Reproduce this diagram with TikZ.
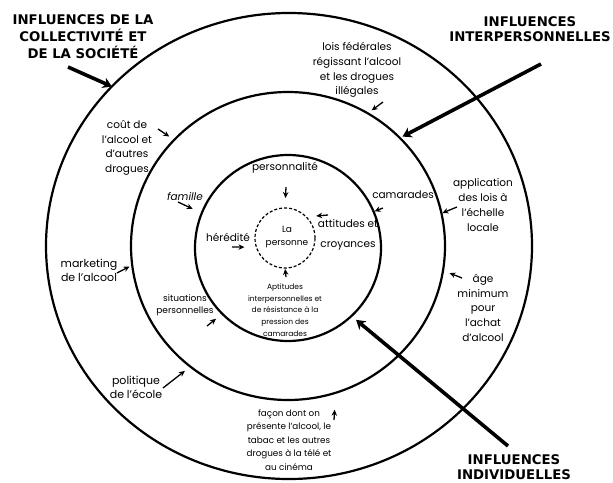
\documentclass[tikz,border=0pt]{standalone}
\usepackage{fontspec}
\setmainfont{Poppins}
\newfontfamily\headfont{DejaVu Sans}
\usetikzlibrary{shapes.geometric,arrows.meta}
\tikzset{
    ring/.style={
        ellipse,
        draw=black,
        line width=2.2pt,
        inner sep=0pt,
        outer sep=0pt
    },
    core/.style={
        circle,
        draw=black,
        line width=1.2pt,
        dash pattern=on 3pt off 2pt,
        inner sep=0pt,
        outer sep=0pt,
        minimum size=60pt
    },
    txt/.style={
        align=center,
        inner sep=0pt,
        font=\fontsize{10.5}{14.7}\selectfont
    },
    smalltxt/.style={
        align=center,
        inner sep=0pt,
        font=\fontsize{7.5}{11.8}\selectfont
    },
    heading/.style={
        align=center,
        inner sep=0pt,
        font=\headfont\bfseries\fontsize{13.3}{17}\selectfont
    },
    pointer/.style={
        -{Stealth[length=6pt,width=5.5pt]},
        line width=1.3pt,
        shorten >=#1
    },
    pointer/.default=4pt,
    bigarrow/.style={
        -{Stealth[length=9pt,width=11pt]},
        line width=3.6pt,
        shorten >=#1
    },
    bigarrow/.default=0pt
}

\begin{document}
\begin{tikzpicture}[x=1pt,y=-1pt]
    \useasboundingbox[fill=white] (0,0) rectangle (613,482);
    % the four circles
    \node (outer) [ring, minimum width=486pt, minimum height=466pt] at (289,246) {};
    \node (mid) [ring, minimum width=314pt, minimum height=308pt] at (288,246) {};
    \node (inner) [ring, minimum size=186pt] at (288,248) {};
    \node (core) [core] at (285,238) {};
    \node (personne) [txt, font=\fontsize{9}{13}\selectfont] at (287,237) {La\\personne};

    % headings
    \node (collect) [heading] at (83,37) {INFLUENCES DE LA\\COLLECTIVITÉ ET\\DE LA SOCIÉTÉ};
    \node (interp) [heading, font=\headfont\bfseries\fontsize{13.3}{14.5}\selectfont] at (530,29) {INFLUENCES\\INTERPERSONNELLES};
    \node (indiv) [heading, font=\headfont\bfseries\fontsize{13.3}{14.5}\selectfont] at (514,467) {INFLUENCES\\INDIVIDUELLES};

    % labels
    \node (lois) [txt] at (357,70) {lois fédérales\\régissant l’alcool\\et les drogues\\illégales};
    \node (cout) [txt] at (127,148) {coût de\\l’alcool et\\d’autres\\drogues};
    \node (famille) [txt, font=\itshape\fontsize{10.5}{14.7}\selectfont] at (185,197) {famille};
    \node (personnalite) [txt] at (285,168) {personnalité};
    \node (camarades) [txt] at (403,195) {camarades};
    \node (attitudes) [txt] at (348,235) {attitudes et\\[5pt]croyances};
    \node (heredite) [txt] at (228,237) {hérédité};
    \node (aptitudes) [smalltxt] at (285,310) {Aptitudes\\interpersonnelles et\\de résistance à la\\pression des\\camarades};
    \node (application) [txt] at (483,205) {application\\des lois à\\l’échelle\\locale};
    \node (age) [txt] at (483,308) {âge\\minimum\\pour\\l’achat\\d’alcool};
    \node (marketing) [txt, font=\fontsize{11}{14}\selectfont] at (89,270) {marketing\\de l’alcool};
    \node (situations) [smalltxt, font=\fontsize{9}{12}\selectfont] at (185,305) {situations\\personnelles};
    \node (politique) [txt, font=\fontsize{11}{14}\selectfont] at (136,387) {politique\\de l’école};
    \node (facon) [smalltxt, font=\fontsize{8.8}{13.5}\selectfont] at (289,440) {façon dont on\\présente l’alcool, le\\tabac et les autres\\drogues à la télé et\\au cinéma};

    % arrow tails
    \coordinate (tcollect) at (68,67);
    \coordinate (tinterp) at (541,64);
    \coordinate (tindiv) at (508,446);
    \coordinate (tlois) at (383,102);
    \coordinate (tcout) at (158,129);
    \coordinate (tfamille) at (178,202);
    \coordinate (tpersonnalite) at (286,187);
    \coordinate (tcamarades) at (383,208);
    \coordinate (tattitudes) at (328,215);
    \coordinate (theredite) at (232,247);
    \coordinate (taptitudes) at (286,277);
    \coordinate (tapplication) at (457,207);
    \coordinate (tage) at (462,278);
    \coordinate (tmarketing) at (117,273);
    \coordinate (tsituations) at (207,326);
    \coordinate (tpolitique) at (163,388);
    \coordinate (tfacon) at (334,420);

    % big arrows
    \draw [bigarrow] (tcollect) -- (outer.138.6);
    \draw [bigarrow=3pt] (tinterp) -- (mid.44.5);
    \draw [bigarrow=6pt] (tindiv) -- (inner.-47.8);

    % small arrows
    \draw [pointer=5pt] (tlois) -- (mid.59);
    \draw [pointer=6pt] (tcout) -- (mid.137);
    \draw [pointer=10pt] (tfamille) -- (inner.158);
    \draw [pointer=10pt] (tpersonnalite) -- (core.90);
    \draw [pointer=1pt] (tcamarades) -- (inner.23);
    \draw [pointer=10pt] (tattitudes) -- (core.45);
    \draw [pointer=12pt] (theredite) -- (core.198);
    \draw [pointer=1pt] (taptitudes) -- (core.270);
    \draw [pointer=1pt] (tapplication) -- (mid.12);
    \draw [pointer=7pt] (tage) -- (mid.-9.5);
    \draw [pointer=3pt] (tmarketing) -- (mid.187.5);
    \draw [pointer=8pt] (tsituations) -- (inner.225);
    \draw [pointer=7pt] (tpolitique) -- (mid.231);
    \draw [pointer=17pt] (tfacon) -- (mid.-72);
\end{tikzpicture}
\end{document}
